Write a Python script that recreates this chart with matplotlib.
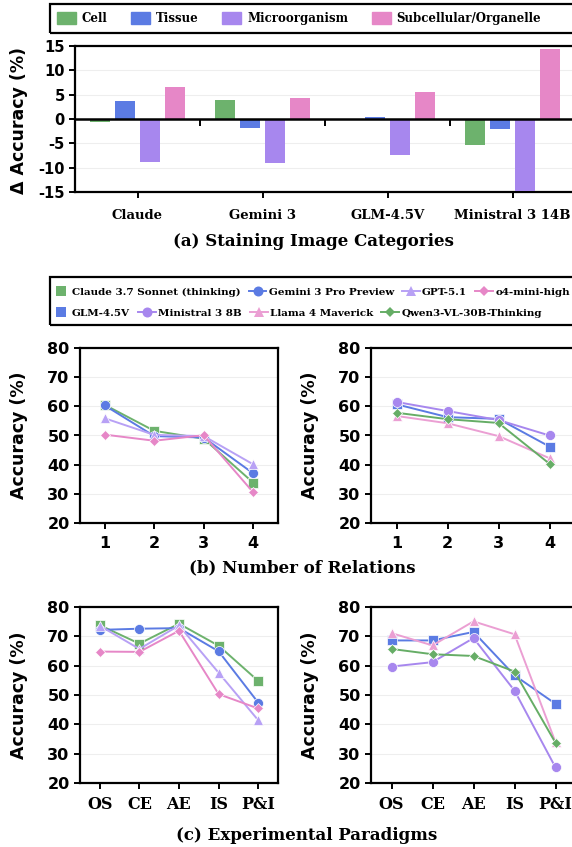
import numpy as np
import matplotlib.pyplot as plt
from matplotlib.patches import Patch, Rectangle
from matplotlib.lines import Line2D

plt.rcParams['axes.unicode_minus'] = False

# ---- data ----
models_a = ['Claude', 'Gemini 3', 'GLM-4.5V', 'Ministral 3 14B']
categories = ['Cell', 'Tissue', 'Microorganism', 'Subcellular/Organelle']
delta_cell = [-0.7, 3.9, 0.0, -5.4]
delta_tissue = [3.7, -1.8, 0.4, -2.0]
delta_micro = [-8.9, -9.1, -7.3, -14.7]
delta_subcell = [6.5, 4.3, 5.6, 14.3]

relations = [1, 2, 3, 4]
paradigms = ['OS', 'CE', 'AE', 'IS', 'P&I']

# left group
rel_claude = [60.5, 51.6, 48.9, 33.8]
rel_gemini = [60.3, 49.8, 49.3, 37.0]
rel_gpt = [55.9, 50.2, 49.8, 40.1]
rel_o4 = [50.3, 48.2, 50.1, 30.5]
par_claude = [73.8, 67.5, 74.3, 66.8, 54.8]
par_gemini = [72.2, 72.6, 72.8, 64.9, 47.4]
par_gpt = [73.6, 65.7, 73.7, 57.6, 41.4]
par_o4 = [64.8, 64.7, 71.9, 50.3, 45.4]

# right group
rel_glm = [60.7, 56.3, 55.7, 46.2]
rel_ministral = [61.5, 58.4, 55.3, 50.0]
rel_llama = [56.7, 54.2, 49.8, 42.2]
rel_qwen = [57.8, 55.6, 54.3, 40.3]
par_glm = [68.6, 68.6, 71.5, 56.7, 47.0]
par_ministral = [59.7, 61.2, 69.4, 51.5, 25.3]
par_llama = [71.1, 66.9, 75.1, 70.7, 33.9]
par_qwen = [65.7, 63.9, 63.3, 58.0, 33.7]

# ---- styles ----
GREEN = '#6db26d'
BLUE = '#5b7be3'
PURPLE = '#a787ee'
PINK = '#e687c7'
LAVENDER = '#b8a1f5'
LIGHTPINK = '#eb9fd3'

W, H = 572, 847
SERIF = 'DejaVu Serif'
SANS = 'DejaVu Sans'


def fx(x):
    return x / W


def fy(y):
    return 1 - y / H


def box(l, t, r, b):
    return [fx(l), fy(b), fx(r) - fx(l), fy(t) - fy(b)]


fig = plt.figure(figsize=(W / 100, H / 100), dpi=100)


def style_axes(ax):
    for s in ax.spines.values():
        s.set_linewidth(1.6)
    ax.tick_params(axis='both', width=1.4, length=4, color='black')
    for lab in ax.get_yticklabels():
        lab.set_fontfamily(SANS)
        lab.set_fontweight('bold')
    ax.yaxis.grid(True, color='#eeeeee', lw=0.8)
    ax.set_axisbelow(True)


# ---- (a) bar chart ----
ax = fig.add_axes(box(75, 46, 575, 192))
x = np.arange(len(models_a))
series_a = [delta_cell, delta_tissue, delta_micro, delta_subcell]
colors_a = [GREEN, BLUE, PURPLE, PINK]
offsets = [-0.3, -0.1, 0.1, 0.3]
for vals, c, off in zip(series_a, colors_a, offsets):
    ax.bar(x + off, vals, width=0.16, color=c, zorder=3)
ax.axhline(0, color='black', lw=1.8, zorder=4)
ax.vlines(x[:-1] + 0.5, -1.4, 0, color='black', lw=1.4, zorder=4)
ax.set_xlim(-0.5, len(models_a) - 0.5)
ax.set_ylim(-15, 15)
ax.set_yticks(np.arange(-15, 16, 5))
ax.set_xticks(x)
ax.set_xticklabels(models_a, fontfamily=SERIF, fontweight='bold', fontsize=9.5)
ax.tick_params(axis='x', length=0, pad=8)
ax.tick_params(axis='y', labelsize=10.5)
style_axes(ax)
fig.text(fx(19), fy(120), 'Δ Accuracy (%)', rotation=90, ha='center', va='center',
         fontfamily=SANS, fontweight='bold', fontsize=12.5)
fig.text(fx(313), fy(242), '(a) Staining Image Categories', ha='center', va='center',
         fontfamily=SERIF, fontweight='bold', fontsize=12)

# top legend
fig.add_artist(Rectangle((fx(50), fy(33)), fx(540), fy(4) - fy(33),
                         transform=fig.transFigure, fill=False, lw=1.6, ec='black'))
handles_a = [Patch(color=c) for c in colors_a]
fig.legend(handles_a, categories, loc='center left', bbox_to_anchor=(fx(50), fy(18.5)),
           ncol=4, frameon=False, borderaxespad=0, borderpad=0.6,
           prop={'family': SERIF, 'weight': 'bold', 'size': 8.5},
           handlelength=1.6, handleheight=1.2, handletextpad=0.5, columnspacing=2.0)

# ---- line series specs ----
left_specs = [
    ('Claude 3.7 Sonnet (thinking)', GREEN, 's', 6.5, rel_claude, par_claude),
    ('Gemini 3 Pro Preview', BLUE, 'o', 7.2, rel_gemini, par_gemini),
    ('GPT-5.1', LAVENDER, '^', 7.2, rel_gpt, par_gpt),
    ('o4-mini-high', PINK, 'D', 5.0, rel_o4, par_o4),
]
right_specs = [
    ('GLM-4.5V', BLUE, 's', 6.5, rel_glm, par_glm),
    ('Ministral 3 8B', PURPLE, 'o', 7.2, rel_ministral, par_ministral),
    ('Llama 4 Maverick', LIGHTPINK, '^', 7.2, rel_llama, par_llama),
    ('Qwen3-VL-30B-Thinking', '#66ad66', 'D', 5.0, rel_qwen, par_qwen),
]


def line_panel(rect, specs, xs, which, labels, label_font):
    ax = fig.add_axes(rect)
    pos = np.arange(len(xs))
    for name, c, m, ms, rel, par in specs:
        vals = rel if which == 'rel' else par
        ax.plot(pos, vals, color=c, lw=1.4, marker=m, ms=ms,
                mec='white', mew=0.5, zorder=3)
    ax.set_xlim(-0.5, len(xs) - 0.5)
    ax.set_ylim(20, 80)
    ax.set_yticks(np.arange(20, 81, 10))
    ax.set_xticks(pos)
    ax.set_xticklabels(labels, fontfamily=label_font, fontweight='bold', fontsize=11.5)
    ax.tick_params(axis='y', labelsize=11.5)
    ax.tick_params(axis='x', pad=5)
    style_axes(ax)
    return ax


# ---- (b) number of relations ----
rel_labels = [str(r) for r in relations]
line_panel(box(80, 348, 278, 523), left_specs, relations, 'rel', rel_labels, SANS)
line_panel(box(371, 348, 575, 523), right_specs, relations, 'rel', rel_labels, SANS)
for xp in (19, 310):
    fig.text(fx(xp), fy(435), 'Accuracy (%)', rotation=90, ha='center', va='center',
             fontfamily=SANS, fontweight='bold', fontsize=12.5)
fig.text(fx(302), fy(568), '(b) Number of Relations', ha='center', va='center',
         fontfamily=SERIF, fontweight='bold', fontsize=12)

# ---- (c) experimental paradigms ----
line_panel(box(80, 607, 278, 783), left_specs, paradigms, 'par', paradigms, SERIF)
line_panel(box(371, 607, 576, 783), right_specs, paradigms, 'par', paradigms, SERIF)
for xp in (19, 310):
    fig.text(fx(xp), fy(695), 'Accuracy (%)', rotation=90, ha='center', va='center',
             fontfamily=SANS, fontweight='bold', fontsize=12.5)
fig.text(fx(307), fy(835), '(c) Experimental Paradigms', ha='center', va='center',
         fontfamily=SERIF, fontweight='bold', fontsize=12)

# ---- model legend (two rows) ----
fig.add_artist(Rectangle((fx(50), fy(325)), fx(540), fy(277) - fy(325),
                         transform=fig.transFigure, fill=False, lw=1.6, ec='black'))
row1 = [left_specs[0], left_specs[1], left_specs[2], left_specs[3]]
row2 = [right_specs[0], right_specs[1], right_specs[2], right_specs[3]]
for row, yrow in ((row1, 292), (row2, 313)):
    hs = []
    for name, c, m, ms, rel, par in row:
        if m == 's':
            hs.append(Line2D([], [], color=c, marker='s', ls='none', ms=7.5, mew=0))
        else:
            hs.append(Line2D([], [], color=c, marker=m, lw=1.4, ms=ms, mew=0))
    fig.legend(hs, [r[0] for r in row], loc='center left',
               bbox_to_anchor=(fx(52), fy(yrow)), ncol=4, frameon=False,
               borderaxespad=0, borderpad=0,
               prop={'family': SERIF, 'weight': 'bold', 'size': 7.5},
               handlelength=1.7, handletextpad=0.2, columnspacing=0.8)

fig.savefig('out.png', dpi=100)
